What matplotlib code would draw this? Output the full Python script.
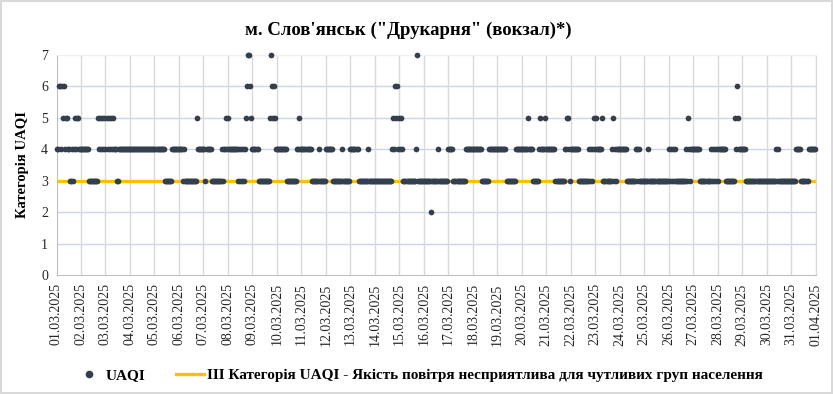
import matplotlib
matplotlib.use("Agg")
import matplotlib.pyplot as plt
from matplotlib.lines import Line2D
import numpy as np

plt.rcParams['font.family'] = ['Liberation Serif', 'DejaVu Serif']

# Hourly UAQI category, one 24-character string per day (hours 00..23)
week1 = [  # 01.03 - 07.03
    "446646564554433434545544",
    "444444443333333335454545",
    "454545454443344444444444",
    "444444444444444444444444",
    "444444444433333334444444",
    "444434333333333333544444",
    "443444443333333333434454",
]
week2 = [  # 08.03 - 14.03
    "544444444434343434567765",
    "444444333333333335765654",
    "444444444433333333334454",
    "444444444433333334333333",
    "444444433333333343333333",
    "444444443333333334333333",
    "333333333333333334546564",
]
week3 = [  # 15.03 - 21.03
    "545433333333333347333333",
    "333333323333334333333333",
    "444443333333333334444444",
    "444444444333333344444444",
    "444444444333333333444444",
    "444444544443333334544445",
    "444444444333333333445543",
]
week4 = [  # 22.03 - 28.03
    "444444443333333333434345",
    "454444453333333345343444",
    "444444433333333344343333",
    "333343333333333333333333",
    "434343433333333334354344",
    "444444433333333334343434",
    "344444443333333335465444",
]
week5 = [  # 29.03 - 31.03
    "444433333333333333333333",
    "333333333434333333333333",
    "333334444433333334444444",
]

tick_labels = ["01.03.2025", "02.03.2025", "03.03.2025", "04.03.2025", "05.03.2025",
               "06.03.2025", "07.03.2025", "08.03.2025", "09.03.2025", "10.03.2025",
               "11.03.2025", "12.03.2025", "13.03.2025", "14.03.2025", "15.03.2025",
               "16.03.2025", "17.03.2025", "18.03.2025", "19.03.2025", "20.03.2025",
               "21.03.2025", "22.03.2025", "23.03.2025", "24.03.2025", "25.03.2025",
               "26.03.2025", "27.03.2025", "28.03.2025", "29.03.2025", "30.03.2025",
               "31.03.2025", "01.04.2025"]
threshold = 3

days = week1 + week2 + week3 + week4 + week5
uaqi = np.array([int(c) for d in days for c in d], dtype=float)
hours = np.arange(len(uaqi)) / 24.0

W, H = 833, 394
fig = plt.figure(figsize=(W / 100, H / 100), dpi=100)
fig.patch.set_facecolor("white")
fig.patch.set_edgecolor("#D9D9D9")
fig.patch.set_linewidth(1.5)

left, right, top, bottom = 56.5, 815.7, 55, 275
ax = fig.add_axes([left / W, 1 - bottom / H, (right - left) / W, (bottom - top) / H])

ax.set_xlim(0, len(tick_labels) - 1)
ax.set_ylim(0, 7)
ax.set_xticks(np.arange(len(tick_labels)))
ax.set_xticklabels(tick_labels, rotation=90, fontsize=10, color="#262626")
ax.set_yticks(range(0, 8))
ax.set_yticklabels([str(v) for v in range(0, 8)], fontsize=10, color="#262626")
ax.tick_params(axis="both", length=0, pad=6)

for v in range(1, 8):
    ax.axhline(v, color="#C9D6EC" if v < 7 else "#EEF1F6", lw=1.0, zorder=0)
for d in range(1, len(tick_labels)):
    ax.axvline(d, color="#D9D9D9", lw=1.0, zorder=0)

ax.spines["top"].set_color("#F0F0F0")
ax.spines["right"].set_color("#D9D9D9")
ax.spines["left"].set_color("#BFBFBF")
ax.spines["bottom"].set_color("#BFBFBF")

ax.plot([0, len(tick_labels) - 1], [threshold, threshold], color="#FFC000", lw=2.4, zorder=2)
ax.scatter(hours, uaqi, s=17, color="#333F4F", linewidths=0, zorder=3, clip_on=False)

ax.set_ylabel("Категорія UAQI", fontsize=10.5, fontweight="bold", labelpad=9)

fig.text(408 / W, 1 - 30 / H, "м. Слов'янськ (\"Друкарня\" (вокзал)*)",
         ha="center", va="center", fontsize=13.5, fontweight="bold")

handles = [
    Line2D([], [], ls="none", marker="o", markersize=4.5, color="#333F4F"),
    Line2D([], [], color="#FFC000", lw=2.4),
]
labels = ["UAQI", "III Категорія UAQI - Якість повітря несприятлива для чутливих груп населення"]
fig.legend(handles, labels, loc="center", bbox_to_anchor=(419 / W, 1 - 375 / H), ncol=2,
           frameon=False, prop={"weight": "bold", "size": 11}, handlelength=1.85,
           columnspacing=2.0, handletextpad=0.15, borderpad=0, borderaxespad=0)

fig.savefig("out.png", dpi=100)
